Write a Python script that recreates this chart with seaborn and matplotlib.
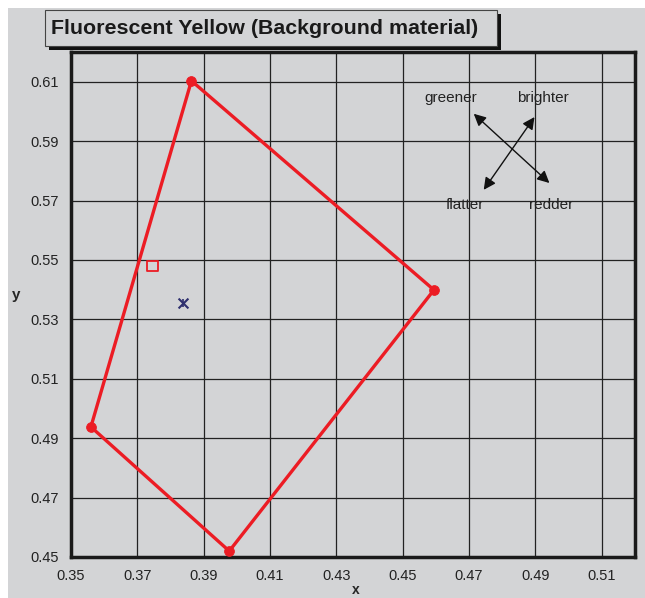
import matplotlib
matplotlib.use("Agg")
import matplotlib.pyplot as plt
import matplotlib.patches as mpatches
import numpy as np
import pandas as pd
import seaborn as sns

# gamut polygon corners (closed)
poly_x = [0.3863, 0.4594, 0.3977, 0.3560, 0.3863]
poly_y = [0.6103, 0.5399, 0.4520, 0.4938, 0.6103]

# single points
square_x = [0.3746]
square_y = [0.5480]
star_x = [0.3839]
star_y = [0.5355]

x_ticks = [0.35, 0.37, 0.39, 0.41, 0.43, 0.45, 0.47, 0.49, 0.51]
y_ticks = [0.45, 0.47, 0.49, 0.51, 0.53, 0.55, 0.57, 0.59, 0.61]

title = "Fluorescent Yellow (Background material)"
bg = "#d3d4d6"
red = "#ec1c24"
navy = "#2e2f6e"

sns.set_style("white")
plt.rcParams['font.family'] = ['Liberation Sans', 'DejaVu Sans']

fig = plt.figure(figsize=(6.45, 5.98), dpi=100)
fig.patch.set_facecolor("white")
fig.patches.append(mpatches.Rectangle((8 / 645, 0), 1, 1 - 8 / 598, transform=fig.transFigure,
                                      facecolor=bg, edgecolor="none", zorder=-5))

ax = fig.add_axes([71 / 645, 1 - 557 / 598, (635 - 71) / 645, (557 - 52) / 598])
ax.set_facecolor(bg)
ax.set_zorder(1)

poly = pd.DataFrame({"x": poly_x, "y": poly_y})
sns.lineplot(data=poly, x="x", y="y", sort=False, estimator=None, color=red, lw=2.4, ax=ax, zorder=3)
sns.scatterplot(data=poly.iloc[:-1], x="x", y="y", color=red, s=50, edgecolor=red, ax=ax, zorder=4)
sns.scatterplot(x=square_x, y=square_y, marker="s", s=55, facecolor="none", edgecolor=red,
                linewidth=1.3, ax=ax, zorder=4)
# excel-style star: x plus short vertical
sns.scatterplot(x=star_x, y=star_y, marker="x", s=50, color=navy, linewidth=1.5, ax=ax, zorder=4)
sns.scatterplot(x=star_x, y=star_y, marker="|", s=40, color=navy, linewidth=1.2, ax=ax, zorder=4)

ax.set_xlim(0.35, 0.52)
ax.set_ylim(0.45, 0.62)
ax.set_xticks(x_ticks)
ax.set_yticks(y_ticks)
ax.set_xticklabels([f"{v:.2f}" for v in x_ticks])
ax.set_yticklabels([f"{v:.2f}" for v in y_ticks])
ax.grid(True, color="#222222", lw=0.9)
ax.set_axisbelow(True)
ax.tick_params(axis="both", direction="out", length=5, width=0.9, color="#222222",
               labelsize=10.5, labelcolor="#222222", pad=4)
for s in ax.spines.values():
    s.set_visible(True)
    s.set_color("#1a1a1a")
    s.set_linewidth(2.5)

ax.set_xlabel("x", fontsize=10, fontweight="bold")
ax.xaxis.set_label_coords(0.505, -0.052)
ax.set_ylabel("y", fontsize=11, fontweight="bold", rotation=0)
ax.yaxis.set_label_coords(-0.098, 0.505)

# direction arrows
arrow_kw = dict(arrowstyle="<|-|>", color="#111111", lw=1.0, mutation_scale=18, shrinkA=0, shrinkB=0)
ax.annotate("", xy=(0.4714, 0.5992), xytext=(0.4942, 0.5759), arrowprops=arrow_kw)
ax.annotate("", xy=(0.4897, 0.5981), xytext=(0.4744, 0.5736), arrowprops=arrow_kw)
for txt, tx, ty in [("greener", 0.4645, 0.6045), ("brighter", 0.4921, 0.6045),
                    ("flatter", 0.4687, 0.5685), ("redder", 0.4948, 0.5685)]:
    ax.text(tx, ty, txt, ha="center", va="center", fontsize=11, color="#222222")

# title box with drop shadow
fig.patches.append(mpatches.Rectangle((49 / 645, 1 - 50 / 598), 452 / 645, 36 / 598, transform=fig.transFigure,
                                      facecolor="#111111", edgecolor="none", zorder=1))
fig.patches.append(mpatches.Rectangle((45 / 645, 1 - 46 / 598), 452 / 645, 36 / 598, transform=fig.transFigure,
                                      facecolor=bg, edgecolor="#444444", lw=0.8, zorder=2))
fig.text(51 / 645, 1 - 28 / 598, title, ha="left", va="center", fontsize=15.4, fontweight="bold",
         color="#1a1a1a", zorder=3)

fig.savefig("out.png", dpi=100)
